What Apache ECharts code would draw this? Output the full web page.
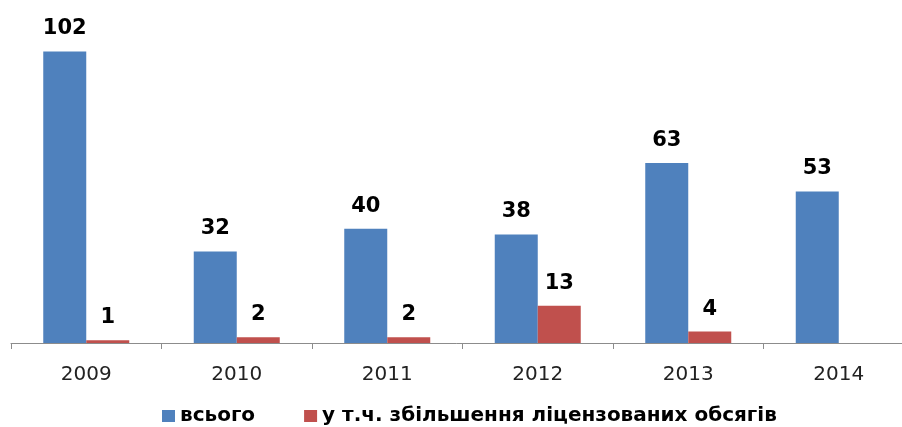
<!DOCTYPE html>
<html>
<head>
<meta charset="utf-8">
<script src="https://cdn.jsdelivr.net/npm/echarts@6/dist/echarts.min.js"></script>
<style>html,body{margin:0;padding:0;background:#fff}#c{width:902px;height:427px}</style>
</head>
<body>
<div id="c"></div>
<script>
const categories = ['2009', '2010', '2011', '2012', '2013', '2014'];
const seriesNames = ['всього', 'у т.ч. збільшення ліцензованих обсягів'];
const totalValues = [102, 32, 40, 38, 63, 53];
const licensedValues = [1, 2, 2, 13, 4, null];

const chart = echarts.init(document.getElementById('c'));
const font = '"DejaVu Sans", sans-serif';
const labelStyle = {
  show: true, position: 'top', distance: 12,
  fontFamily: font, fontSize: 21, fontWeight: 'bold', color: '#000'
};
chart.setOption({
  animation: false,
  backgroundColor: '#fff',
  grid: { left: 11, top: 0, width: 903, height: 343, containLabel: false, outerBoundsMode: 'none' },
  legend: {
    left: 157, top: 401, itemWidth: 13, itemHeight: 12, itemGap: 49,
    icon: 'rect',
    textStyle: { fontFamily: font, fontSize: 20, fontWeight: 'bold', color: '#000' },
    data: seriesNames
  },
  xAxis: {
    type: 'category', data: categories, boundaryGap: true,
    axisLine: { lineStyle: { color: '#8c8c8c', width: 1 } },
    axisTick: { show: true, length: 6, lineStyle: { color: '#8c8c8c' } },
    axisLabel: { fontFamily: font, fontSize: 20, color: '#222', margin: 22 }
  },
  yAxis: { type: 'value', min: 0, max: 120, show: false, splitLine: { show: false } },
  series: [
    { name: seriesNames[0], type: 'bar', data: totalValues, barWidth: 43, barGap: '0%',
      itemStyle: { color: '#4F81BD' }, label: labelStyle },
    { name: seriesNames[1], type: 'bar', data: licensedValues, barWidth: 43, barGap: '0%',
      itemStyle: { color: '#C0504D' }, label: labelStyle }
  ]
});
</script>
</body>
</html>
